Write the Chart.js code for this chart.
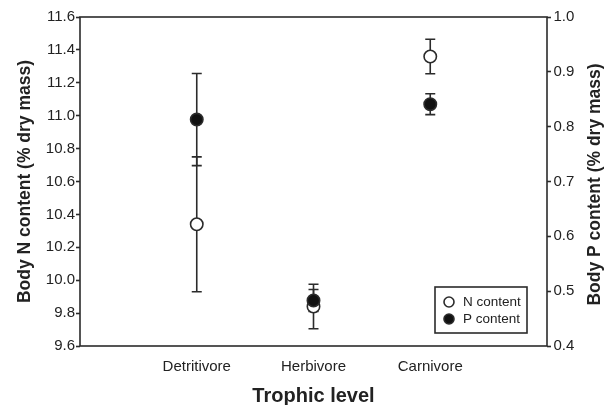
<!DOCTYPE html>
<html><head><meta charset="utf-8">
<script src="https://cdn.jsdelivr.net/npm/chart.js@4.4.1/dist/chart.umd.min.js"></script>
<style>html,body{margin:0;padding:0;background:#fff;}</style>
</head><body>
<canvas id="c" width="611" height="405"></canvas>
<script>
const categories = ['Detritivore', 'Herbivore', 'Carnivore'];
const nMean = [10.34, 9.84, 11.36];
const nErr = [0.41, 0.135, 0.105];
const pMean = [0.813, 0.483, 0.841];
const pErr = [0.084, 0.02, 0.019];
const nTickLabels = ['9.6','9.8','10.0','10.2','10.4','10.6','10.8','11.0','11.2','11.4','11.6'];
const pTickLabels = ['0.4','0.5','0.6','0.7','0.8','0.9','1.0'];
const rightTitle = 'Body P content (% dry mass)';

const INK = '#2b2b2b';
const FONT = "'Liberation Sans', Arial, sans-serif";

const errorBarPlugin = {
  id: 'errorBars',
  beforeDatasetsDraw(chart) {
    const ctx = chart.ctx;
    const xs = chart.scales.x;
    ctx.save();
    ctx.strokeStyle = INK;
    ctx.lineWidth = 1.6;
    chart.data.datasets.forEach((ds) => {
      const ys = chart.scales[ds.yAxisID];
      ds.data.forEach((pt, i) => {
        const e = ds.err[i];
        const px = xs.getPixelForValue(pt.x);
        const yt = ys.getPixelForValue(pt.y + e);
        const yb = ys.getPixelForValue(pt.y - e);
        ctx.beginPath();
        ctx.moveTo(px, yt); ctx.lineTo(px, yb);
        ctx.moveTo(px - 5, yt); ctx.lineTo(px + 5, yt);
        ctx.moveTo(px - 5, yb); ctx.lineTo(px + 5, yb);
        ctx.stroke();
      });
    });
    ctx.restore();
  }
};

const framePlugin = {
  id: 'frame',
  beforeDatasetsDraw(chart) {
    const {ctx, chartArea: a} = chart;
    ctx.save();
    ctx.strokeStyle = INK;
    ctx.lineWidth = 1.6;
    ctx.strokeRect(a.left, a.top, a.right - a.left, a.bottom - a.top);
    ctx.restore();
  }
};

const rightTitlePlugin = {
  id: 'rightTitle',
  afterDraw(chart) {
    const ctx = chart.ctx;
    const s = chart.scales.y2;
    ctx.save();
    ctx.translate(s.right - 16, (chart.chartArea.top + chart.chartArea.bottom) / 2 + 3);
    ctx.rotate(-Math.PI / 2);
    ctx.fillStyle = '#222';
    ctx.font = 'bold 17.5px ' + FONT;
    ctx.textAlign = 'center';
    ctx.textBaseline = 'middle';
    ctx.fillText(rightTitle, 0, 0);
    ctx.restore();
  }
};

const legendPlugin = {
  id: 'boxLegend',
  afterDatasetsDraw(chart) {
    const ctx = chart.ctx;
    const a = chart.chartArea;
    const bx = a.right - 112, by = a.bottom - 59, bw = 92, bh = 46;
    ctx.save();
    ctx.fillStyle = '#fff';
    ctx.fillRect(bx, by, bw, bh);
    ctx.strokeStyle = INK;
    ctx.lineWidth = 1.6;
    ctx.strokeRect(bx, by, bw, bh);
    chart.data.datasets.forEach((ds, k) => {
      const cy = by + 15 + k * 17;
      ctx.beginPath();
      ctx.arc(bx + 14, cy, 5, 0, Math.PI * 2);
      ctx.fillStyle = ds.pointBackgroundColor;
      ctx.fill();
      ctx.lineWidth = 1.6;
      ctx.strokeStyle = INK;
      ctx.stroke();
      ctx.fillStyle = '#222';
      ctx.font = '13.5px ' + FONT;
      ctx.textBaseline = 'middle';
      ctx.textAlign = 'left';
      ctx.fillText(ds.label, bx + 28, cy + 0.5);
    });
    ctx.restore();
  }
};

const nData = categories.map((c, i) => ({x: i + 1, y: nMean[i]}));
const pData = categories.map((c, i) => ({x: i + 1, y: pMean[i]}));

new Chart(document.getElementById('c'), {
  type: 'scatter',
  data: {
    datasets: [
      { label: 'N content', data: nData, err: nErr, yAxisID: 'y', order: 1,
        pointRadius: 6.2, pointHoverRadius: 6.2, pointBackgroundColor: '#ffffff',
        pointBorderColor: INK, pointBorderWidth: 1.6 },
      { label: 'P content', data: pData, err: pErr, yAxisID: 'y2', order: 0,
        pointRadius: 6.2, pointHoverRadius: 6.2, pointBackgroundColor: '#111111',
        pointBorderColor: INK, pointBorderWidth: 1.6 }
    ]
  },
  options: {
    responsive: false,
    animation: false,
    devicePixelRatio: 1,
    layout: { padding: { top: 17, left: 0, right: 0, bottom: 0 } },
    plugins: { legend: { display: false }, tooltip: { enabled: false } },
    scales: {
      x: {
        type: 'linear', min: 0, max: 4,
        afterBuildTicks: s => { s.ticks = categories.map((c, i) => ({value: i + 1})); },
        afterFit: s => { s.height = 59; },
        grid: { display: false, drawTicks: false },
        border: { display: false },
        ticks: { color: '#222', font: { family: FONT, size: 15 }, padding: 12,
                 callback: v => categories[v - 1], maxRotation: 0, autoSkip: false },
        title: { display: true, text: 'Trophic level', color: '#222',
                 font: { family: FONT, size: 20, weight: 'bold', lineHeight: 0.9 },
                 padding: { top: 0, bottom: 0 } }
      },
      y: {
        type: 'linear', position: 'left', min: 9.6, max: 11.6,
        afterBuildTicks: s => { s.ticks = nTickLabels.map(t => ({value: parseFloat(t)})); },
        afterFit: s => { s.width = 80; },
        grid: { drawOnChartArea: false, drawTicks: true, tickLength: 4, tickWidth: 1.6, tickColor: INK },
        border: { display: false },
        ticks: { color: '#222', font: { family: FONT, size: 15 }, padding: 1,
                 callback: (v, i) => nTickLabels[i] },
        title: { display: true, text: 'Body N content (% dry mass)', color: '#222',
                 font: { family: FONT, size: 17.5, weight: 'bold', lineHeight: 1 },
                 padding: { top: 16, bottom: 0 } }
      },
      y2: {
        type: 'linear', position: 'right', min: 0.4, max: 1.0,
        afterBuildTicks: s => { s.ticks = pTickLabels.map(t => ({value: parseFloat(t)})); },
        afterFit: s => { s.width = 64; },
        grid: { drawOnChartArea: false, drawTicks: true, tickLength: 4, tickWidth: 1.6, tickColor: INK },
        border: { display: false },
        ticks: { color: '#222', font: { family: FONT, size: 15 }, padding: 2.5,
                 callback: (v, i) => pTickLabels[i] },
        title: { display: false }
      }
    }
  },
  plugins: [framePlugin, errorBarPlugin, legendPlugin, rightTitlePlugin]
});
</script>
</body></html>
